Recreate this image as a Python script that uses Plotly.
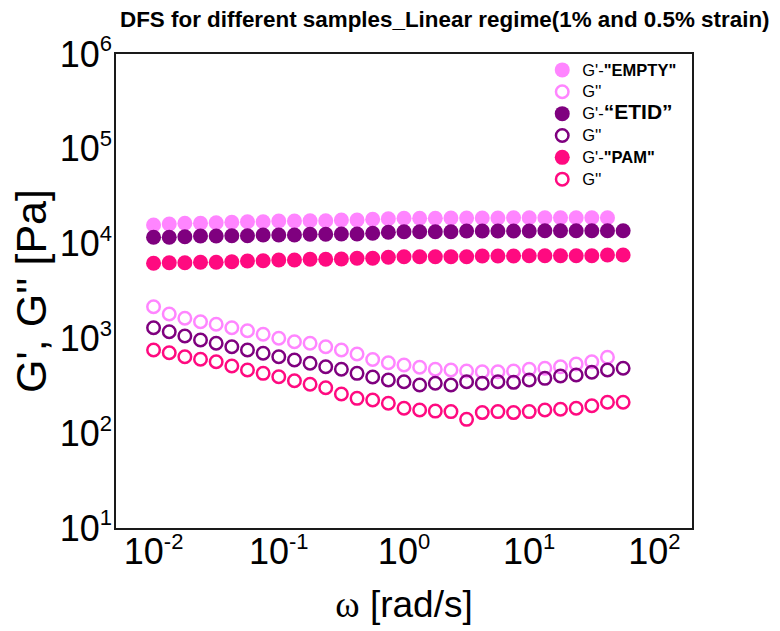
import plotly.graph_objects as go

# Angular frequency, rad/s (8 points per decade)
omega = [0.01, 0.01334, 0.01778, 0.02371, 0.03162, 0.04217, 0.05623, 0.07499,
         0.1, 0.1334, 0.1778, 0.2371, 0.3162, 0.4217, 0.5623, 0.7499,
         1.0, 1.334, 1.778, 2.371, 3.162, 4.217, 5.623, 7.499,
         10.0, 13.34, 17.78, 23.71, 31.62, 42.17, 56.23]

# EMPTY sample (30 points)
g1_empty = [15710, 16100, 16370, 16370, 16610, 16780, 17020, 17020, 17310, 17310,
            17440, 17440, 17740, 17740, 18040, 18310, 18490, 18490, 18490, 18620,
            18620, 18620, 18620, 18760, 18760, 18760, 18760, 18760, 18760, 18760]
g2_empty = [2160, 1809, 1630, 1501, 1408, 1297, 1206, 1105, 1002, 923,
            888, 817, 754, 684, 599, 554, 524, 496, 472, 464,
            453, 445, 445, 453, 472, 484, 503, 537, 568, 632]

# ETID sample
g1_etid = [11650, 11650, 11830, 12030, 12030, 12120, 12120, 12320, 12320, 12320,
           12540, 12540, 12630, 12630, 12840, 13160, 13350, 13350, 13350, 13350,
           13580, 13580, 13580, 13580, 13580, 13680, 13680, 13680, 13680, 13680, 13680]
g2_etid = [1297, 1177, 1060, 962, 888, 817, 754, 696, 641, 592,
           546, 503, 472, 428, 392, 364, 349, 322, 336, 322,
           349, 336, 349, 344, 364, 379, 401, 411, 439, 464, 484]

# PAM sample
g1_pam = [6196, 6287, 6287, 6348, 6348, 6442, 6553, 6600, 6714, 6714,
          6829, 6829, 6880, 6997, 6997, 7170, 7275, 7275, 7275, 7275,
          7275, 7400, 7400, 7400, 7455, 7455, 7455, 7455, 7455, 7582, 7582]
g2_pam = [754, 707, 641, 602, 568, 512, 464, 428, 394, 358,
          328, 302, 259, 233, 224, 207, 183, 176, 171, 169,
          140, 165, 169, 165, 169, 176, 179, 183, 195, 212, 212]

c_empty = "#FF85FF"
c_etid = "#7F007F"
c_pam = "#FF0A80"

x_tickvals = [0.01, 0.1, 1, 10, 100]
x_exps = ["-2", "-1", "0", "1", "2"]
y_tickvals = [10, 100, 1000, 1e4, 1e5, 1e6]
y_exps = ["1", "2", "3", "4", "5", "6"]


def power_label(exp):
    return '10<sup><span style="font-size:22px">%s</span></sup>' % exp


def legend_text(s):
    return '<span style="font-size:16.5px">%s</span>' % s


series = [
    (legend_text('G\'-<b>"EMPTY"</b>'), omega[:len(g1_empty)], g1_empty, c_empty, True),
    (legend_text("G''"), omega[:len(g2_empty)], g2_empty, c_empty, False),
    (legend_text('G\'-<b><span style="font-size:21px">\u201cETID\u201d</span></b>'), omega, g1_etid, c_etid, True),
    (legend_text("G''"), omega, g2_etid, c_etid, False),
    (legend_text('G\'-<b>"PAM"</b>'), omega, g1_pam, c_pam, True),
    (legend_text("G''"), omega, g2_pam, c_pam, False),
]

fig = go.Figure()
for name, xs, ys, col, filled in series:
    if filled:
        marker = dict(symbol="circle", size=15, color=col, line=dict(width=0))
    else:
        marker = dict(symbol="circle-open", size=12.5, color=col, line=dict(width=2.5, color=col))
    fig.add_trace(go.Scatter(x=xs, y=ys, mode="markers", name=name, marker=marker))

axis_common = dict(
    showline=True, mirror=True, linecolor="#1a1a1a", linewidth=1.5,
    showgrid=False, zeroline=False, ticks="",
    tickfont=dict(family="Liberation Sans, Arial", size=36, color="#000"),
)

fig.update_layout(
    width=780, height=631,
    margin=dict(l=116, r=88, t=54, b=103),
    paper_bgcolor="white", plot_bgcolor="white",
    font=dict(family="Liberation Sans, Arial", color="#000"),
    xaxis=dict(type="log", range=[-2.3, 2.3], tickvals=x_tickvals,
               ticktext=[power_label(e) for e in x_exps], ticklabelstandoff=-9,
               title=dict(text='<span style="font-family:Liberation Serif">\u03c9</span> [rad/s]',
                          font=dict(size=37), standoff=20),
               **axis_common),
    yaxis=dict(type="log", range=[1, 6], tickvals=y_tickvals,
               ticktext=[power_label(e) for e in y_exps], ticklabelstandoff=-5,
               title=dict(text="G', G'' [Pa]", font=dict(size=43), standoff=0),
               **axis_common),
    legend=dict(x=0.74, y=1.0, xanchor="left", yanchor="top",
                bgcolor="rgba(0,0,0,0)", borderwidth=0,
                font=dict(family="Liberation Sans, Arial", size=14.5, color="#000"),
                tracegroupgap=0, itemsizing="trace"),
    showlegend=True,
    annotations=[dict(text="<b>DFS for different samples_Linear regime(1% and 0.5% strain)</b>",
                      xref="paper", yref="paper", x=0.571, y=1.0, yshift=35,
                      xanchor="center", yanchor="middle", showarrow=False,
                      font=dict(family="Liberation Sans, Arial", size=22.4, color="#000"))],
)

fig.write_html("out.html")
